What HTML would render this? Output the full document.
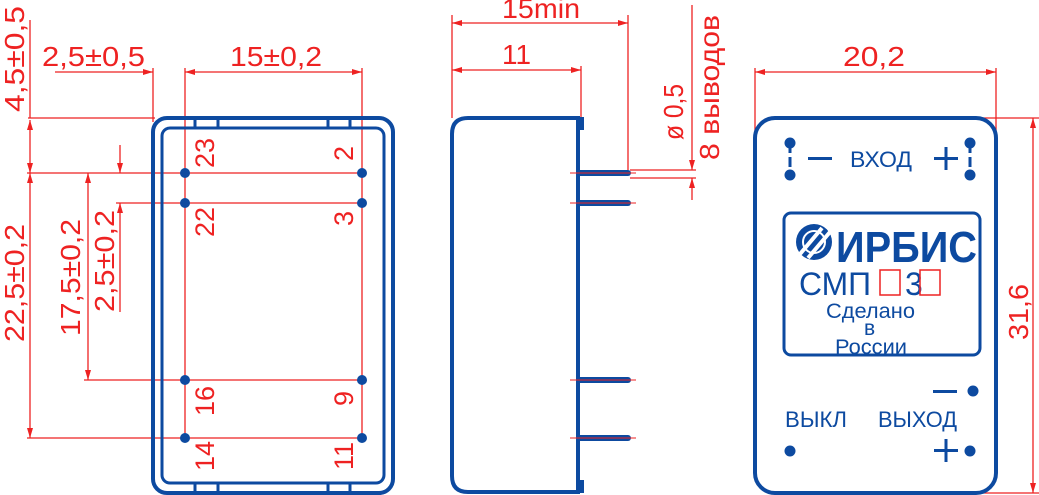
<!DOCTYPE html>
<html><head><meta charset="utf-8"><style>
html,body{margin:0;padding:0;background:#fff}
svg{display:block}
text{font-family:"Liberation Sans",sans-serif}
</style></head><body>
<svg width="1039" height="495" viewBox="0 0 1039 495" xmlns="http://www.w3.org/2000/svg">
<defs>
<marker id="a" viewBox="0 0 10 6" refX="10" refY="3" markerWidth="10" markerHeight="6" orient="auto-start-reverse" markerUnits="userSpaceOnUse"><path d="M0,0 L10,3 L0,6 z" fill="#ee2222"/></marker>
</defs>
<g stroke="#ee2222" stroke-width="1.3" fill="none">
<line x1="55" y1="72" x2="153" y2="72" marker-end="url(#a)"/>
<line x1="185" y1="72" x2="362" y2="72" marker-start="url(#a)" marker-end="url(#a)"/>
<line x1="153" y1="68" x2="153" y2="122"/>
<line x1="185" y1="68" x2="185" y2="438"/>
<line x1="362" y1="68" x2="362" y2="438"/>
<line x1="30" y1="20" x2="30" y2="118"/>
<line x1="28" y1="118" x2="155" y2="118"/>
<line x1="30" y1="120" x2="30" y2="173" marker-start="url(#a)" marker-end="url(#a)"/>
<line x1="30" y1="173" x2="30" y2="438" marker-start="url(#a)" marker-end="url(#a)"/>
<line x1="27" y1="173" x2="362" y2="173"/>
<line x1="27" y1="438" x2="362" y2="438"/>
<line x1="88" y1="173" x2="88" y2="380" marker-start="url(#a)" marker-end="url(#a)"/>
<line x1="84" y1="380" x2="362" y2="380"/>
<line x1="120" y1="145" x2="120" y2="173" marker-end="url(#a)"/>
<line x1="120" y1="312" x2="120" y2="203" marker-end="url(#a)"/>
<line x1="116" y1="203" x2="362" y2="203"/>
<line x1="452" y1="23" x2="628" y2="23" marker-start="url(#a)" marker-end="url(#a)"/>
<line x1="452" y1="70" x2="581" y2="70" marker-start="url(#a)" marker-end="url(#a)"/>
<line x1="452" y1="15" x2="452" y2="118"/>
<line x1="628" y1="15" x2="628" y2="170"/>
<line x1="581" y1="66" x2="581" y2="118"/>
<line x1="692" y1="5" x2="692" y2="170" marker-end="url(#a)"/>
<line x1="692" y1="200" x2="692" y2="178" marker-end="url(#a)"/>
<line x1="630" y1="170" x2="696" y2="170"/>
<line x1="630" y1="178" x2="696" y2="178"/>
<line x1="755" y1="72" x2="996" y2="72" marker-start="url(#a)" marker-end="url(#a)"/>
<line x1="755" y1="68" x2="755" y2="155"/>
<line x1="996" y1="68" x2="996" y2="155"/>
<line x1="960" y1="118" x2="1039" y2="118"/>
<line x1="962" y1="493" x2="1039" y2="493"/>
<line x1="1033" y1="118" x2="1033" y2="493" marker-start="url(#a)" marker-end="url(#a)"/>
</g>
<g fill="#ee2222" font-size="28" lengthAdjust="spacingAndGlyphs">
<text x="42" y="66" textLength="103" lengthAdjust="spacingAndGlyphs">2,5±0,5</text>
<text x="230" y="66" textLength="92" lengthAdjust="spacingAndGlyphs">15±0,2</text>
<text transform="translate(24,112) rotate(-90)" textLength="106" lengthAdjust="spacingAndGlyphs">4,5±0,5</text>
<text transform="translate(24,342) rotate(-90)" textLength="118" lengthAdjust="spacingAndGlyphs">22,5±0,2</text>
<text transform="translate(80,336) rotate(-90)" textLength="117" lengthAdjust="spacingAndGlyphs">17,5±0,2</text>
<text transform="translate(114,312) rotate(-90)" textLength="102" lengthAdjust="spacingAndGlyphs">2,5±0,2</text>
<text x="502" y="18" textLength="78" lengthAdjust="spacingAndGlyphs">15min</text>
<text x="502" y="64" textLength="29" lengthAdjust="spacingAndGlyphs">11</text>
<text transform="translate(683,140) rotate(-90)" textLength="56" lengthAdjust="spacingAndGlyphs">ø 0,5</text>
<text transform="translate(719,160) rotate(-90)" textLength="145" lengthAdjust="spacingAndGlyphs">8 выводов</text>
<text x="843" y="66" textLength="62" lengthAdjust="spacingAndGlyphs">20,2</text>
<text transform="translate(1028,340) rotate(-90)" textLength="56" lengthAdjust="spacingAndGlyphs">31,6</text>
<g font-size="27">
<text transform="translate(214,168) rotate(-90)">23</text>
<text transform="translate(353,161) rotate(-90)">2</text>
<text transform="translate(214,237) rotate(-90)">22</text>
<text transform="translate(353,226) rotate(-90)">3</text>
<text transform="translate(214,416) rotate(-90)">16</text>
<text transform="translate(353,406) rotate(-90)">9</text>
<text transform="translate(214,471) rotate(-90)">14</text>
<text transform="translate(353,470) rotate(-90)">11</text>
</g>
</g>
<g stroke="#0d4aa0" stroke-width="4" fill="none">
<rect x="153" y="118" width="240" height="375" rx="14"/>
<rect x="162" y="128" width="222" height="355" rx="8" stroke-width="3"/>
<line x1="195" y1="118" x2="195" y2="128" stroke-width="3"/>
<line x1="218" y1="118" x2="218" y2="128" stroke-width="3"/>
<line x1="328" y1="118" x2="328" y2="128" stroke-width="3"/>
<line x1="350" y1="118" x2="350" y2="128" stroke-width="3"/>
<line x1="195" y1="483" x2="195" y2="493" stroke-width="3"/>
<line x1="218" y1="483" x2="218" y2="493" stroke-width="3"/>
<line x1="328" y1="483" x2="328" y2="493" stroke-width="3"/>
<line x1="350" y1="483" x2="350" y2="493" stroke-width="3"/>
</g>
<g fill="#0d4aa0">
<circle cx="185" cy="173" r="5"/><circle cx="362" cy="173" r="5"/>
<circle cx="185" cy="203" r="5"/><circle cx="362" cy="203" r="5"/>
<circle cx="185" cy="380" r="5"/><circle cx="362" cy="380" r="5"/>
<circle cx="185" cy="438" r="5"/><circle cx="362" cy="438" r="5"/>
</g>
<g stroke="#0d4aa0" stroke-width="4" fill="none">
<path d="M578,118 L468,118 Q452,118 452,134 L452,476 Q452,492 468,492 L578,492 Z"/>
<path d="M578,119 L582,119 L582,128 L578,128"/>
<path d="M578,482 L582,482 L582,491 L578,491"/>
</g>
<g stroke="#0d4aa0" stroke-width="6" stroke-linecap="round">
<line x1="580" y1="173" x2="628" y2="173"/>
<line x1="580" y1="203" x2="628" y2="203"/>
<line x1="580" y1="380" x2="628" y2="380"/>
<line x1="580" y1="438" x2="628" y2="438"/>
</g>
<g stroke="#ee2222" stroke-width="1">
<line x1="570" y1="173" x2="636" y2="173"/>
<line x1="570" y1="203" x2="636" y2="203"/>
<line x1="570" y1="380" x2="636" y2="380"/>
<line x1="570" y1="438" x2="636" y2="438"/>
</g>
<g stroke="#0d4aa0" fill="none">
<rect x="755" y="118" width="241" height="375" rx="20" stroke-width="4"/>
<rect x="784" y="213" width="196" height="142" rx="7" stroke-width="3"/>
<line x1="790" y1="143" x2="790" y2="175" stroke-width="3" stroke-dasharray="10,4"/>
<line x1="970" y1="143" x2="970" y2="175" stroke-width="3" stroke-dasharray="10,4"/>
</g>
<g fill="#0d4aa0">
<circle cx="790" cy="143" r="5.5"/><circle cx="790" cy="175" r="5.5"/>
<circle cx="970" cy="143" r="5.5"/><circle cx="970" cy="175" r="5.5"/>
<rect x="808" y="157" width="24" height="3"/>
<rect x="934" y="157" width="24" height="3"/><rect x="944.5" y="147" width="3" height="23"/>
<text x="850" y="167" font-size="22" textLength="62" lengthAdjust="spacingAndGlyphs">ВХОД</text>
<text x="836" y="262" font-size="44" font-weight="bold" textLength="141" lengthAdjust="spacingAndGlyphs">ИРБИС</text>
<text x="799" y="295" font-size="32" textLength="72" lengthAdjust="spacingAndGlyphs">СМП</text>
<text x="905" y="295" font-size="32">3</text>
<text x="826" y="318" font-size="21" textLength="89" lengthAdjust="spacingAndGlyphs">Сделано</text>
<text x="864" y="335" font-size="21">в</text>
<text x="835" y="354" font-size="21" textLength="72" lengthAdjust="spacingAndGlyphs">России</text>
<rect x="933" y="390" width="24" height="3"/><circle cx="973" cy="391" r="5.5"/>
<text x="785" y="427" font-size="22" textLength="62" lengthAdjust="spacingAndGlyphs">ВЫКЛ</text>
<text x="878" y="427" font-size="22" textLength="79" lengthAdjust="spacingAndGlyphs">ВЫХОД</text>
<circle cx="790" cy="451" r="5.5"/>
<rect x="934" y="449" width="24" height="3"/><rect x="944.5" y="439" width="3" height="23"/>
<circle cx="970" cy="451" r="5.5"/>
</g>
<g>
<circle cx="814" cy="242" r="18" fill="#0d4aa0"/>
<g stroke="#fff" stroke-width="4">
<line x1="800" y1="254" x2="822" y2="228"/>
<line x1="808" y1="258" x2="830" y2="232"/>
</g>
<circle cx="814" cy="242" r="11" fill="none" stroke="#fff" stroke-width="2"/>
</g>
<g fill="none" stroke="#ee2222" stroke-width="1.5">
<rect x="880" y="270" width="20" height="25"/>
<rect x="920" y="270" width="20" height="25"/>
</g>
</svg>
</body></html>
